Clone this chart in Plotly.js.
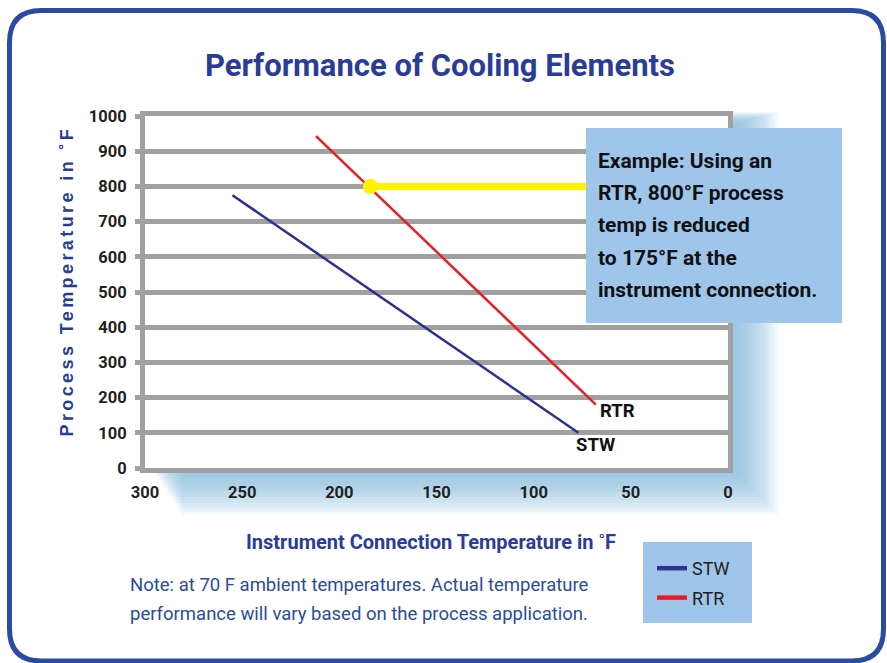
<!DOCTYPE html>
<html>
<head>
<meta charset="utf-8">
<script src="https://cdn.plot.ly/plotly-3.0.1.min.js"></script>
<style>
  html, body { margin: 0; padding: 0; background: #ffffff; }
  #chart { width: 887px; height: 663px; }
  .annotation[data-index="0"] text { letter-spacing: 3.4px; }
</style>
</head>
<body>
<div id="chart"></div>
<script>
// ---- data ----
const stwX = [255, 77];
const stwY = [775, 100];
const rtrX = [212, 68];
const rtrY = [943, 180];
const exampleLineX = [184, 55];
const exampleLineY = [800, 800];
const examplePointX = [184];
const examplePointY = [800];
const xTickVals = [300, 250, 200, 150, 100, 50, 0];
const yTickVals = [0, 100, 200, 300, 400, 500, 600, 700, 800, 900, 1000];
const seriesNames = ['STW', 'RTR'];
const seriesColors = ['#2e3192', '#ed1c24'];
const titleText = 'Performance of Cooling Elements';
const xTitleText = 'Instrument Connection Temperature in ˚F';
const yTitleText = 'Process Temperature in ˚F';
const exampleLines = ['Example: Using an', 'RTR, 800°F process', 'temp is reduced', 'to 175°F at the', 'instrument connection.'];
const noteLines = ['Note: at 70 F ambient temperatures. Actual temperature', 'performance will vary based on the process application.'];

// ---- layout helpers (pixel -> paper) ----
const W = 887, H = 663;
const L = 145, R = 728, T = 116, B = 468;
const px = x => (x - L) / (R - L);
const py = y => (B - y) / (B - T);

const NARROW = 'Roboto, "Liberation Sans", sans-serif';
const SANS = '"Liberation Sans", Arial, sans-serif';
const BLUE_TXT = '#2b3c98';
const GRAY = '#a0a0a0';

const traces = [
  { x: stwX, y: stwY, name: seriesNames[0], mode: 'lines', line: { color: seriesColors[0], width: 2.5 }, showlegend: false, hoverinfo: 'skip' },
  { x: rtrX, y: rtrY, name: seriesNames[1], mode: 'lines', line: { color: seriesColors[1], width: 2.5 }, showlegend: false, hoverinfo: 'skip' },
  { x: exampleLineX, y: exampleLineY, mode: 'lines', line: { color: '#fff200', width: 7 }, showlegend: false, hoverinfo: 'skip' },
  { x: examplePointX, y: examplePointY, mode: 'markers', marker: { color: '#fff200', size: 15 }, showlegend: false, hoverinfo: 'skip' },
  // legend entries (thicker swatches, as in the reference key)
  { x: [null], y: [null], name: seriesNames[0], mode: 'lines', line: { color: seriesColors[0], width: 4.5 }, legendgroup: 'a', hoverinfo: 'skip' },
  { x: [null], y: [null], name: seriesNames[1], mode: 'lines', line: { color: seriesColors[1], width: 4.5 }, legendgroup: 'b', hoverinfo: 'skip' }
];

// outer rounded frame
const fl = 9.5, ft = 10.5, fr = 883.5, fb = 661, rad = 32;
const P = (x, y) => px(x) + ',' + py(y);
const framePath = 'M ' + P(fl, ft + rad) + ' Q ' + P(fl, ft) + ' ' + P(fl + rad, ft) +
  ' L ' + P(fr - rad, ft) + ' Q ' + P(fr, ft) + ' ' + P(fr, ft + rad) +
  ' L ' + P(fr, fb - rad) + ' Q ' + P(fr, fb) + ' ' + P(fr - rad, fb) +
  ' L ' + P(fl + rad, fb) + ' Q ' + P(fl, fb) + ' ' + P(fl, fb - rad) + ' Z';

const shapes = [];
shapes.push({ type: 'path', xref: 'paper', yref: 'paper', path: framePath, layer: 'below',
  line: { color: '#2b4ba0', width: 5 }, fillcolor: 'rgba(0,0,0,0)' });
// soft blue glow behind plot area
const glowN = 16;
for (let i = 0; i < glowN; i++) {
  shapes.push({ type: 'rect', xref: 'paper', yref: 'paper', layer: 'below',
    x0: px(152 + i * 2), x1: px(733 + i * 3), y0: py(124 - i * 0.8), y1: py(470 + i * 3),
    line: { width: 0 }, fillcolor: 'rgba(130,180,222,0.085)' });
}
// white plot area
shapes.push({ type: 'rect', xref: 'paper', yref: 'paper', layer: 'below', x0: 0, x1: 1, y0: 0, y1: 1,
  line: { width: 0 }, fillcolor: '#ffffff' });
// example box
shapes.push({ type: 'rect', xref: 'paper', yref: 'paper', layer: 'above',
  x0: px(586), x1: px(842), y0: py(128), y1: py(323), line: { width: 0 }, fillcolor: '#9fc5ea' });
// legend box
shapes.push({ type: 'rect', xref: 'paper', yref: 'paper', layer: 'above',
  x0: px(643), x1: px(752), y0: py(542), y1: py(623), line: { width: 0 }, fillcolor: '#9fc5ea' });

const annotations = [];
// y title (index 0, letter-spaced via CSS)
annotations.push({ xref: 'paper', yref: 'paper', x: px(67), y: py(281), text: yTitleText, textangle: -90,
  showarrow: false, xanchor: 'center', yanchor: 'middle',
  font: { family: SANS, size: 18, color: BLUE_TXT, weight: 'bold' } });
// x title
annotations.push({ xref: 'paper', yref: 'paper', x: px(431), y: py(542), text: xTitleText,
  showarrow: false, xanchor: 'center', yanchor: 'middle',
  font: { family: NARROW, size: 20, color: BLUE_TXT, weight: 'bold' } });
// example text lines
const exBase = [161, 193, 225, 258, 290];
exampleLines.forEach((t, i) => {
  annotations.push({ xref: 'paper', yref: 'paper', x: px(596), y: py(exBase[i]), text: t,
    showarrow: false, xanchor: 'left', yanchor: 'middle',
    font: { family: NARROW, size: 21, color: '#111111', weight: 'bold' } });
});
// note lines
const noteY = [585, 614];
noteLines.forEach((t, i) => {
  annotations.push({ xref: 'paper', yref: 'paper', x: px(128), y: py(noteY[i]), text: t,
    showarrow: false, xanchor: 'left', yanchor: 'middle',
    font: { family: NARROW, size: 18.5, color: '#2b4ba0' } });
});
// line end labels
annotations.push({ x: rtrX[1], y: rtrY[1], xref: 'x', yref: 'y', text: seriesNames[1], showarrow: false,
  xanchor: 'left', yanchor: 'middle', xshift: 2, yshift: -6,
  font: { family: NARROW, size: 18.5, color: '#111111', weight: 'bold' } });
annotations.push({ x: stwX[1], y: stwY[1], xref: 'x', yref: 'y', text: seriesNames[0], showarrow: false,
  xanchor: 'center', yanchor: 'middle', xshift: 17, yshift: -12,
  font: { family: NARROW, size: 18.5, color: '#111111', weight: 'bold' } });

const layout = {
  width: W, height: H,
  margin: { l: L, r: W - R, t: T, b: H - B, pad: 0 },
  paper_bgcolor: '#ffffff',
  plot_bgcolor: 'rgba(0,0,0,0)',
  title: { text: titleText, x: 0.496, xanchor: 'center', y: 1 - 65 / H, yanchor: 'middle',
    font: { family: NARROW, size: 31, color: BLUE_TXT, weight: 'bold' } },
  xaxis: {
    range: [300, 0], tickvals: xTickVals, ticks: '', showgrid: false, zeroline: false,
    showline: true, mirror: true, linecolor: GRAY, linewidth: 5,
    ticklabelstandoff: 5,
    tickfont: { family: NARROW, size: 16.5, color: '#231f20', weight: 'bold' }
  },
  yaxis: {
    range: [0, 1000], tickvals: yTickVals, ticks: 'outside', ticklen: 5, tickwidth: 5, tickcolor: GRAY,
    showgrid: true, gridcolor: GRAY, gridwidth: 5, zeroline: false,
    showline: true, mirror: true, linecolor: GRAY, linewidth: 5,
    ticklabelstandoff: 5,
    tickfont: { family: NARROW, size: 16.5, color: '#231f20', weight: 'bold' }
  },
  showlegend: true,
  legend: { x: px(652), y: py(550), xanchor: 'left', yanchor: 'top', bgcolor: 'rgba(0,0,0,0)',
    borderwidth: 0, tracegroupgap: 3, itemwidth: 30, traceorder: 'grouped',
    font: { family: NARROW, size: 18, color: '#231f20' } },
  shapes: shapes,
  annotations: annotations
};

Plotly.newPlot('chart', traces, layout, { displayModeBar: false, staticPlot: true });
</script>
</body>
</html>
